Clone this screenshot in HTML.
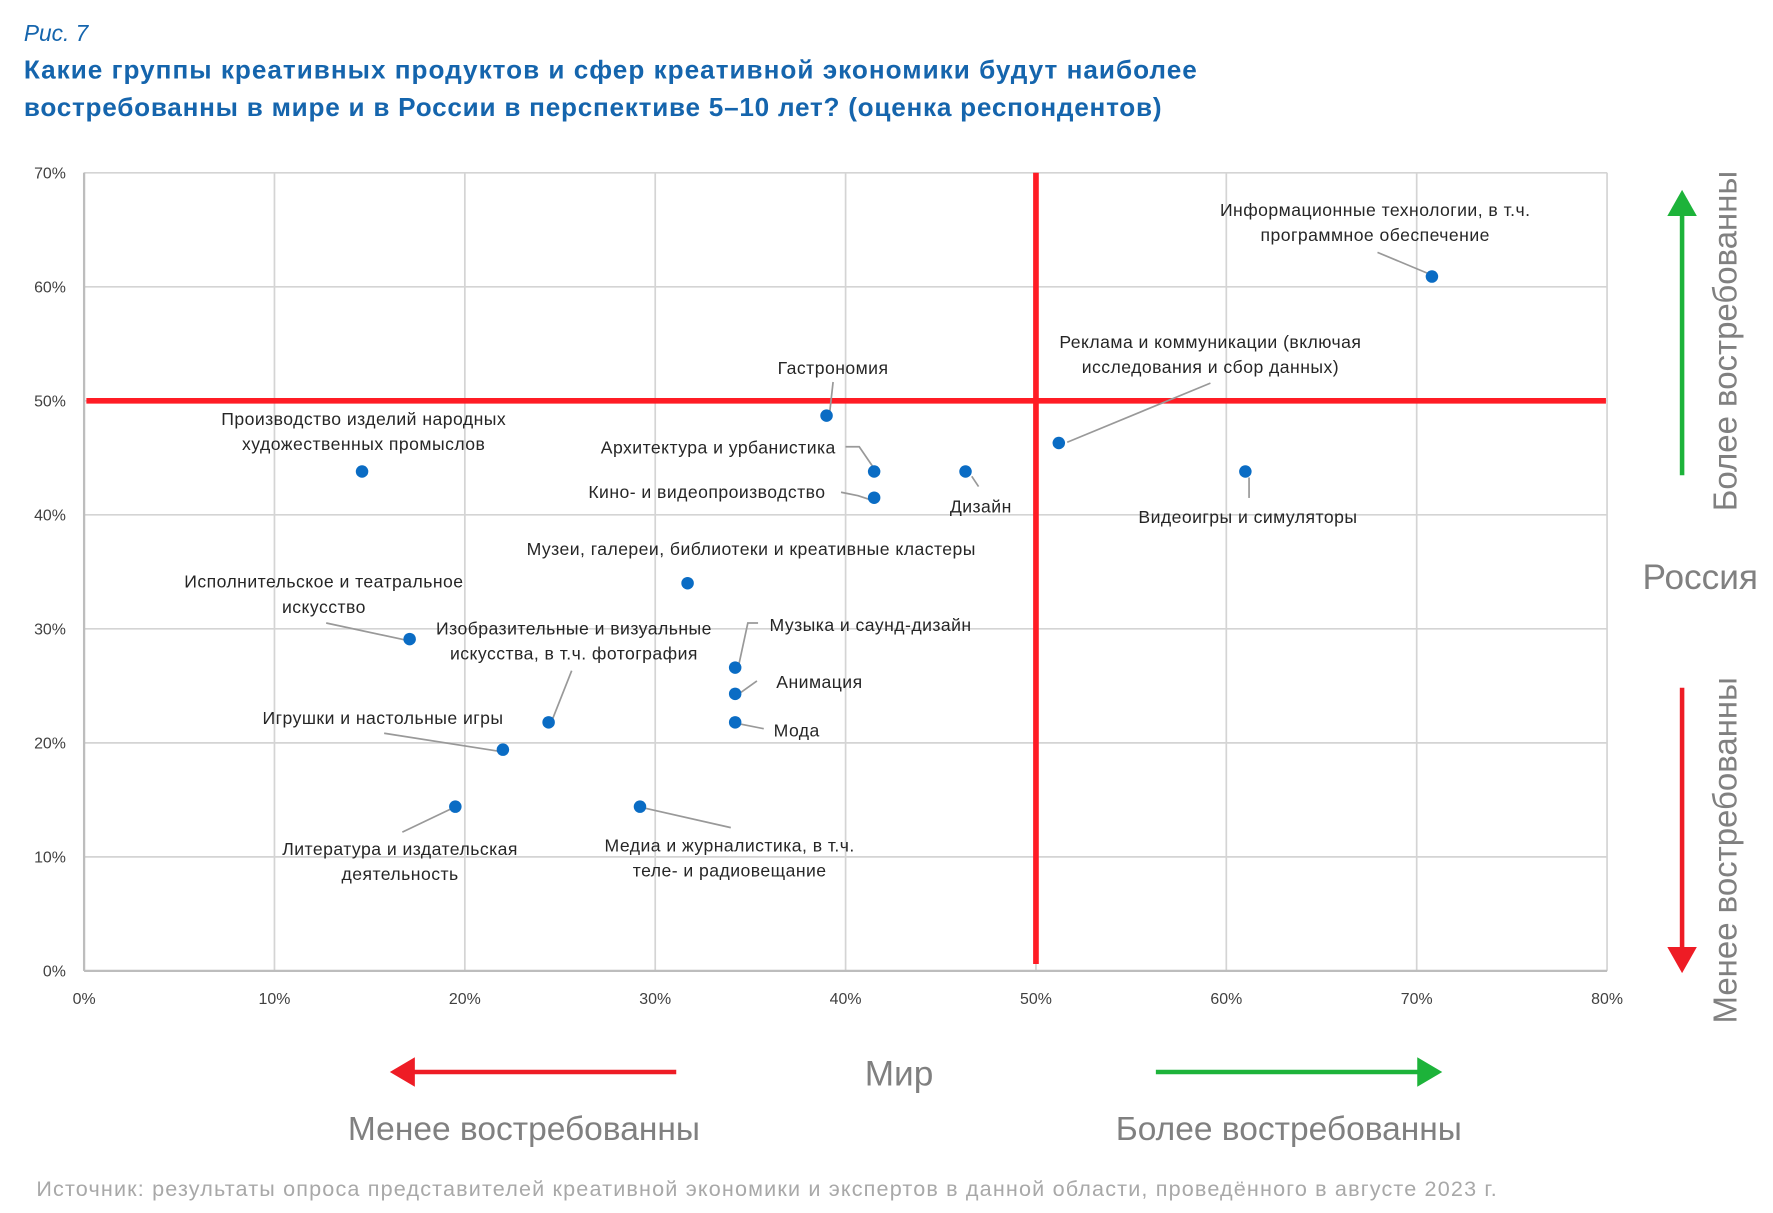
<!DOCTYPE html>
<html><head><meta charset="utf-8">
<style>
html,body{margin:0;padding:0;background:#fff;}
svg{display:block;font-family:"Liberation Sans",sans-serif;}
</style></head>
<body>
<svg id="chart" width="1773" height="1213" viewBox="0 0 1560 1067" preserveAspectRatio="none" xmlns="http://www.w3.org/2000/svg">
<text x="21" y="36" font-size="20" font-style="italic" fill="#1565ad">Рис. 7</text>
<text x="21" y="69" font-size="23" font-weight="bold" fill="#1565ad" textLength="1032" lengthAdjust="spacing">Какие группы креативных продуктов и сфер креативной экономики будут наиболее</text>
<text x="21" y="102" font-size="23" font-weight="bold" fill="#1565ad" textLength="1001" lengthAdjust="spacing">востребованны в мире и в России в перспективе 5–10 лет? (оценка респондентов)</text>
<g id="grid"></g>
<g id="axes"></g>
<g id="quadrants"></g>
<g id="leaders"></g>
<g id="points"></g>
<g id="labels"></g>

<g>
 <line x1="1480" y1="418" x2="1480" y2="188" stroke="#1db33a" stroke-width="4"/>
 <polygon points="1467,190 1493,190 1480,167" fill="#1db33a"/>
 <text transform="translate(1528,300) rotate(-90)" text-anchor="middle" font-size="29" fill="#808080">Более востребованны</text>
 <text x="1496" y="518" text-anchor="middle" font-size="31" fill="#808080">Россия</text>
 <line x1="1480" y1="605" x2="1480" y2="835" stroke="#ee1c25" stroke-width="4"/>
 <polygon points="1467,833 1493,833 1480,856" fill="#ee1c25"/>
 <text transform="translate(1528,748) rotate(-90)" text-anchor="middle" font-size="29" fill="#808080">Менее востребованны</text>
</g>
<g>
 <line x1="595" y1="943" x2="362" y2="943" stroke="#ee1c25" stroke-width="4"/>
 <polygon points="365,930 365,956 343,943" fill="#ee1c25"/>
 <text x="791" y="955" text-anchor="middle" font-size="31" fill="#808080">Мир</text>
 <line x1="1017" y1="943" x2="1250" y2="943" stroke="#1db33a" stroke-width="4"/>
 <polygon points="1247,930 1247,956 1269,943" fill="#1db33a"/>
 <text x="461" y="1003" text-anchor="middle" font-size="29.5" fill="#808080">Менее востребованны</text>
 <text x="1134" y="1003" text-anchor="middle" font-size="29.5" fill="#808080">Более востребованны</text>
</g>
<text x="32" y="1052" font-size="19" fill="#a8a8a8" textLength="1285" lengthAdjust="spacing">Источник: результаты опроса представителей креативной экономики и экспертов в данной области, проведённого в августе 2023 г.</text>
</svg>
<script>
const names = ["it","advertising","videogames","design","architecture","cinema","gastronomy","folk-crafts","museums","performing-arts","visual-arts","music","animation","fashion","toys","literature","media"];
const worldValues = [70.8,51.2,61.0,46.3,41.5,41.5,39.0,14.6,31.7,17.1,24.4,34.2,34.2,34.2,22.0,19.5,29.2];
const russiaValues = [60.9,46.3,43.8,43.8,43.8,41.5,48.7,43.8,34.0,29.1,21.8,26.6,24.3,21.8,19.4,14.4,14.4];
const xTicks = [0,10,20,30,40,50,60,70,80];
const yTicks = [0,10,20,30,40,50,60,70];
const xThreshold = 50;
const yThreshold = 50;

const NS="http://www.w3.org/2000/svg";
const L=74,R=1414,T=152,B=854;
function xScale(v){return L+(v-0)/(80-0)*(R-L);}
function yScale(v){return B-(v-0)/(70-0)*(B-T);}
function mk(tag,attrs,parent){const e=document.createElementNS(NS,tag);for(const k in attrs)e.setAttribute(k,attrs[k]);parent.appendChild(e);return e;}

const grid=document.getElementById('grid');
xTicks.forEach(t=>{
 const l=mk('line',{x1:xScale(t),x2:xScale(t),y1:T,y2:B,stroke:'#d4d4d4','stroke-width':1.5},grid);
 
 
});
yTicks.forEach(t=>{
 const l=mk('line',{x1:L,x2:R,y1:yScale(t),y2:yScale(t),stroke:'#d4d4d4','stroke-width':1.5},grid);
 
 
});
const axes=document.getElementById('axes');
const xa=mk('line',{x1:L,x2:R,y1:B,y2:B,stroke:'#bdbdbd','stroke-width':2},axes);


const ya=mk('line',{x1:L,x2:L,y1:T,y2:B,stroke:'#bdbdbd','stroke-width':2},axes);


xTicks.forEach(t=>{
 const e=mk('text',{x:xScale(t),y:B+29,'text-anchor':'middle','font-size':14,fill:'#404040'},axes);
 e.textContent=t+'%';
 
 
});
yTicks.forEach(t=>{
 const e=mk('text',{x:58,y:yScale(t)+5,'text-anchor':'end','font-size':14,fill:'#404040'},axes);
 e.textContent=t+'%';
 
 
});
const q=document.getElementById('quadrants');
const vl=mk('line',{x1:xScale(xThreshold),x2:xScale(xThreshold),y1:T,y2:848,stroke:'#ff1c25','stroke-width':5},q);


const hl=mk('line',{x1:76,x2:1413,y1:yScale(yThreshold),y2:yScale(yThreshold),stroke:'#ff1c25','stroke-width':5},q);



const layout={
 "it":[["Информационные технологии, в т.ч.","программное обеспечение"],1210,190,[[1212,222],[1260,242]]],
 "advertising":[["Реклама и коммуникации (включая","исследования и сбор данных)"],1065,306,[[1065,337],[939,389]]],
 "videogames":[["Видеоигры и симуляторы"],1098,460,[[1099,438],[1099,420]]],
 "design":[["Дизайн"],863,451,[[861,428],[855,419]]],
 "architecture":[["Архитектура и урбанистика"],632,399,[[744,393],[756,393],[769,412]]],
 "cinema":[["Кино- и видеопроизводство"],622,438,[[740,433],[755,436],[767,440]]],
 "gastronomy":[["Гастрономия"],733,329,[[733,336],[730,363]]],
 "folk-crafts":[["Производство изделий народных","художественных промыслов"],320,374,null],
 "museums":[["Музеи, галереи, библиотеки и креативные кластеры"],661,488,null],
 "performing-arts":[["Исполнительское и театральное","искусство"],285,517,[[287,548],[357,563]]],
 "visual-arts":[["Изобразительные и визуальные","искусства, в т.ч. фотография"],505,558,[[503,590],[486,633]]],
 "music":[["Музыка и саунд-дизайн"],766,555,[[667,548],[658,548],[650,585]]],
 "animation":[["Анимация"],721,605,[[666,599],[652,609]]],
 "fashion":[["Мода"],701,648,[[672,641],[652,637]]],
 "toys":[["Игрушки и настольные игры"],337,637,[[338,645],[440,661]]],
 "literature":[["Литература и издательская","деятельность"],352,752,[[354,732],[398,711]]],
 "media":[["Медиа и журналистика, в т.ч.","теле- и радиовещание"],642,749,[[643,728],[568,711]]]
};
const pts=document.getElementById('points'),lab=document.getElementById('labels'),ld=document.getElementById('leaders');
names.forEach((n,i)=>{
 const c=mk('circle',{cx:xScale(worldValues[i]),cy:yScale(russiaValues[i]),r:5.5,fill:'#0a6cc4'},pts);
 
 
 const lay=layout[n];
 lay[0].forEach((s,j)=>{
  const t=mk('text',{x:lay[1],y:lay[2]+j*22,'text-anchor':'middle','font-size':15.5,'letter-spacing':0.4,fill:'#262626'},lab);
  t.textContent=s;
  
  
 });
 if(lay[3]){
  const p=mk('polyline',{points:lay[3].map(a=>a.join(',')).join(' '),fill:'none',stroke:'#999','stroke-width':1.5},ld);
  
  
 }
});
</script>
</body></html>
